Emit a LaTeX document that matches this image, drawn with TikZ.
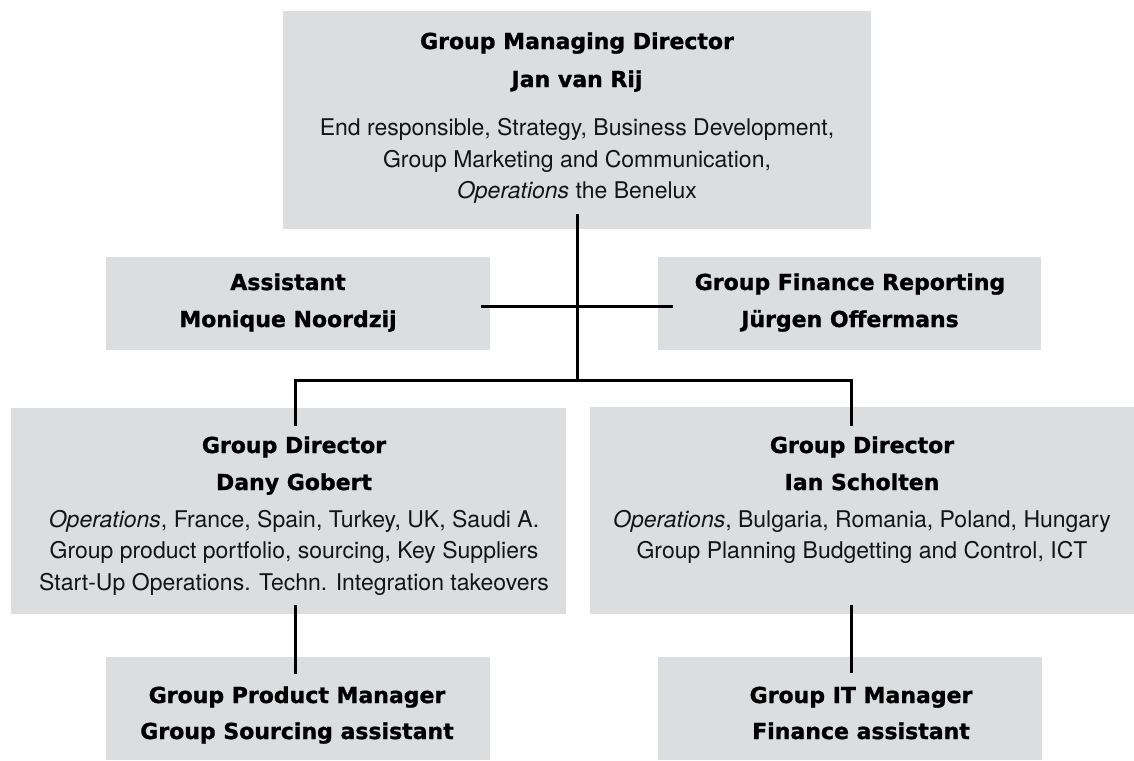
\documentclass[tikz,border=0pt]{standalone}
\usepackage{fontspec}
\setmainfont{TeX Gyre Heros}
\newfontfamily\headfont{DejaVu Sans}[BoldFeatures={FakeBold=1.2}]
\usetikzlibrary{calc}
\definecolor{boxgray}{RGB}{220,221,223}
\tikzset{
  box/.style={fill=boxgray, draw=none, inner sep=0pt, outer sep=0pt},
  hd/.style={anchor=base, inner sep=0pt, font=\headfont\bfseries\fontsize{22}{26}\selectfont},
  bd/.style={anchor=base, inner sep=0pt, text=black!92, font=\fontsize{23}{28}\selectfont},
  link/.style={line width=3pt, black},
}
\begin{document}
\begin{tikzpicture}[x=1pt, y=-1pt]
\useasboundingbox (0,0) rectangle (1134,760);
% boxes
\node[box, minimum width=588pt, minimum height=218pt] (top) at (577,120) {};
\node[box, minimum width=384pt, minimum height=93pt] (asst) at (298,303.5) {};
\node[box, minimum width=383pt, minimum height=93pt] (fin) at (849.5,303.5) {};
\node[box, minimum width=555pt, minimum height=206pt] (dl) at (288.5,511) {};
\node[box, minimum width=544pt, minimum height=207pt] (dr) at (862,510.5) {};
\node[box, minimum width=384pt, minimum height=103pt] (bl) at (298,708.5) {};
\node[box, minimum width=384pt, minimum height=103pt] (br) at (850,708.5) {};
% connectors
\coordinate (bus) at (577,380);
\draw[link] ([yshift=15pt]top.south) -- (bus);
\draw[link] ($(asst.east)+(-9,2.5)$) -- ($(fin.west)+(15,2.5)$);
\draw[link] ($(dl.north)+(6.5,18)$) |- (bus) -| ($(dr.north)+(-11,19)$);
\draw[link] ($(dl.south)+(6.5,-9)$) -- ($(bl.north)+(-3,17)$);
\draw[link] ($(dr.south)+(-11,-9)$) -- ($(br.north)+(1,16)$);
% texts: top
\node[hd] (t1) at (577,49) {Group Managing Director};
\node[hd] (t2) at (577,87) {Jan van Rij};
\node[bd] (t3) at (577,135) {End responsible, Strategy, Business Development,};
\node[bd] (t4) at (577,167) {Group Marketing and Communication,};
\node[bd] (t5) at (577,198) {\textit{Operations} the Benelux};
% assistant
\node[hd] (a1) at (288,290) {Assistant};
\node[hd] (a2) at (288,327) {Monique Noordzij};
% finance
\node[hd] (f1) at (850,290) {Group Finance Reporting};
\node[hd] (f2) at (850,327) {Jürgen Offermans};
% left director
\node[hd] (l1) at (294,453) {Group Director};
\node[hd] (l2) at (294,490) {Dany Gobert};
\node[bd] (l3) at (294,527) {\textit{Operations}, France, Spain, Turkey, UK, Saudi A.};
\node[bd] (l4) at (294,558) {Group product portfolio, sourcing, Key Suppliers};
\node[bd] (l5) at (294,590) {Start-Up Operations. Techn. Integration takeovers};
% right director
\node[hd] (r1) at (862,453) {Group Director};
\node[hd] (r2) at (862,490) {Ian Scholten};
\node[bd] (r3) at (862,527) {\textit{Operations}, Bulgaria, Romania, Poland, Hungary};
\node[bd] (r4) at (862,558) {Group Planning Budgetting and Control, ICT};
% bottom
\node[hd] (b1) at (297,703) {Group Product Manager};
\node[hd] (b2) at (297,739) {Group Sourcing assistant};
\node[hd] (c1) at (861,703) {Group IT Manager};
\node[hd] (c2) at (861,739) {Finance assistant};
\end{tikzpicture}
\end{document}
